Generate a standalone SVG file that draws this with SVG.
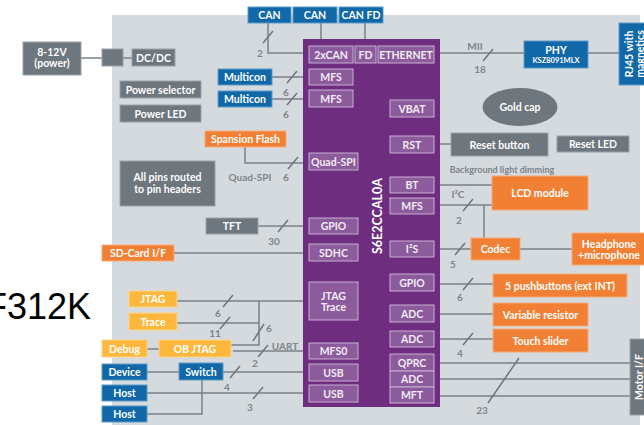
<svg xmlns="http://www.w3.org/2000/svg" width="644" height="425" viewBox="0 0 644 425">
<style>
text{font-family:Lato,"Liberation Sans",sans-serif;font-weight:700;text-anchor:middle;dominant-baseline:central}
.g{fill:#6e767e;stroke:#9ba1a7;stroke-width:1}
.b{fill:#1068a8;stroke:#5d9bc8;stroke-width:1}
.o{fill:#f28034;stroke:#f6aa78;stroke-width:1}
.y{fill:#fcb73c;stroke:#fdd48a;stroke-width:1}
.s{fill:#8b5b9b;stroke:#c9afd3;stroke-width:1}
.t{fill:#fff;font-size:10.5px}
.ts{fill:#f3ecf5;font-size:10.5px}
.n{fill:#7e858b;font-size:10px}
.w{fill:none;stroke:#7b8188;stroke-width:1.5}
.sl{fill:none;stroke:#6e767e;stroke-width:1.5}
</style>
<rect x="112" y="15" width="528" height="410" fill="#d5dade"/>
<text x="-15" y="306" style="font-family:'Liberation Sans',Arial,sans-serif;font-weight:400;font-size:36px;text-anchor:start;fill:#000">F312K</text>

<g id="connectors">
<path class="w" d="M81,58H102M123,58H132"/>
<path class="w" d="M268,23V53H303M321,23V39M365,23V39"/>
<path class="w" d="M272,77H303M272,99H303"/>
<path class="w" d="M440,53H524M588,53H619"/>
<path class="w" d="M245,147V163H303M258,226H303M174,253H303"/>
<path class="w" d="M440,144H451M440,185H492M440,205H492M484,205V238M440,249H471M520,249H572"/>
<path class="w" d="M440,284H493M440,314H493M440,339H493M440,363H630M440,379H630M440,396H630"/>
<path class="w" d="M177,301H303M177,323H259M259,301V345H231M233,351H303M147,349H159"/>
<path class="w" d="M147,372H179M223,372H303M147,393H303M202,380V414H147"/>
<g class="sl">
<path d="M263,43L273,31"/>
<path d="M287,83L297,71M287,105L297,93"/>
<path d="M483,61L493,49"/>
<path d="M288,169L298,157"/>
<path d="M278,232L288,220"/>
<path d="M463,211L473,199"/>
<path d="M455,255L465,243"/>
<path d="M463,290L473,278M463,345L473,333"/>
<path d="M519,358L488,403"/>
<path d="M223,307L233,295M220,329L230,317"/>
<path d="M253,341L264,324"/>
<path d="M258,357L268,345"/>
<path d="M230,378L240,366"/>
<path d="M253,399L263,387"/>
</g>
<text class="n" x="260" y="53">2</text>
<text class="n" x="286" y="92">6</text>
<text class="n" x="286" y="114">6</text>
<text class="n" x="475" y="46">MII</text>
<text class="n" x="480" y="69">18</text>
<text class="n" x="250" y="177">Quad-SPI</text>
<text class="n" x="286" y="177">6</text>
<text class="n" x="274" y="241">30</text>
<text class="n" x="502" y="169" style="font-size:9px">Background light dimming</text>
<text class="n" x="458" y="194">I²C</text>
<text class="n" x="459" y="220">2</text>
<text class="n" x="453" y="264">5</text>
<text class="n" x="460" y="297">6</text>
<text class="n" x="460" y="353">4</text>
<text class="n" x="482" y="410">23</text>
<text class="n" x="218" y="313">6</text>
<text class="n" x="215" y="333">11</text>
<text class="n" x="269" y="328">6</text>
<text class="n" x="285" y="346">UART</text>
<text class="n" x="255" y="363">2</text>
<text class="n" x="227" y="387">4</text>
<text class="n" x="250" y="407">3</text>
</g>

<g id="power"><rect class="g" x="23" y="42" width="58" height="33"/><text class="t" x="52" y="52">8-12V</text><text class="t" x="52" y="63">(power)</text></g>
<g id="plug"><rect class="g" x="102" y="49" width="21" height="17"/></g>
<g id="dcdc"><rect class="g" x="132" y="49" width="43" height="17"/><text class="t" x="153.5" y="57.5">DC/DC</text></g>
<g id="powersel"><rect class="g" x="120" y="81" width="81" height="17"/><text class="t" x="160.5" y="89.5">Power selector</text></g>
<g id="powerled"><rect class="g" x="120" y="105" width="81" height="17"/><text class="t" x="160.5" y="113.5">Power LED</text></g>
<g id="allpins"><rect class="g" x="120" y="161" width="95" height="45"/><text class="t" x="167.5" y="177">All pins routed</text><text class="t" x="167.5" y="189">to pin headers</text></g>

<g id="can1"><rect class="b" x="248" y="7" width="43" height="16"/><text class="t" x="269.5" y="15">CAN</text></g>
<g id="can2"><rect class="b" x="293" y="7" width="44" height="16"/><text class="t" x="315" y="15">CAN</text></g>
<g id="canfd"><rect class="b" x="339" y="7" width="44" height="16"/><text class="t" x="361" y="15">CAN FD</text></g>
<g id="multicon1"><rect class="b" x="218" y="69" width="54" height="16"/><text class="t" x="245" y="77">Multicon</text></g>
<g id="multicon2"><rect class="b" x="218" y="91" width="54" height="16"/><text class="t" x="245" y="99">Multicon</text></g>
<g id="flash"><rect class="o" x="205" y="131" width="81" height="16"/><text class="t" x="245.5" y="139">Spansion Flash</text></g>
<g id="tft"><rect class="g" x="206" y="218" width="52" height="16"/><text class="t" x="232" y="226">TFT</text></g>
<g id="sdcard"><rect class="o" x="102" y="245" width="72" height="16"/><text class="t" x="138" y="253">SD-Card I/F</text></g>
<g id="jtag"><rect class="y" x="129" y="291" width="48" height="16"/><text class="t" x="153" y="299">JTAG</text></g>
<g id="trace"><rect class="y" x="129" y="313" width="48" height="17"/><text class="t" x="153" y="321.5">Trace</text></g>
<g id="debug"><rect class="y" x="102" y="340" width="45" height="17"/><text class="t" x="124.5" y="348.5">Debug</text></g>
<g id="objtag"><rect class="y" x="159" y="340" width="72" height="17"/><text class="t" x="195" y="348.5">OB JTAG</text></g>
<g id="device"><rect class="b" x="102" y="364" width="45" height="16"/><text class="t" x="124.5" y="372">Device</text></g>
<g id="switch"><rect class="b" x="179" y="363" width="44" height="17"/><text class="t" x="201" y="371.5">Switch</text></g>
<g id="host1"><rect class="b" x="102" y="385" width="45" height="16"/><text class="t" x="124.5" y="393">Host</text></g>
<g id="host2"><rect class="b" x="102" y="406" width="45" height="16"/><text class="t" x="124.5" y="414">Host</text></g>

<g id="phy"><rect class="b" x="524" y="41" width="64" height="27"/><text class="t" x="556" y="50">PHY</text><text class="t" x="556" y="60" style="font-size:7.5px">KSZ8091MLX</text></g>
<g id="rj45"><rect class="b" x="619" y="23" width="30" height="62"/><text class="t" transform="translate(629,54) rotate(-90)">RJ45 with</text><text class="t" transform="translate(640,54) rotate(-90)">magnetics</text></g>
<g id="goldcap"><ellipse cx="520" cy="107" rx="37.5" ry="19" fill="#6e767e"/><text class="t" x="520" y="107">Gold cap</text></g>
<g id="resetbtn"><rect class="g" x="451" y="133" width="97" height="23"/><text class="t" x="499.5" y="144.5">Reset button</text></g>
<g id="resetled"><rect class="g" x="557" y="136" width="72" height="16"/><text class="t" x="593" y="144">Reset LED</text></g>
<g id="lcd"><rect class="o" x="492" y="176" width="96" height="34"/><text class="t" x="540" y="193">LCD module</text></g>
<g id="codec"><rect class="o" x="471" y="238" width="49" height="22"/><text class="t" x="495.5" y="249">Codec</text></g>
<g id="headphone"><rect class="o" x="572" y="233" width="74" height="32"/><text class="t" x="609" y="244">Headphone</text><text class="t" x="609" y="255">+microphone</text></g>
<g id="pushbuttons"><rect class="o" x="493" y="274" width="134" height="23"/><text class="t" x="560" y="285.5">5 pushbuttons (ext INT)</text></g>
<g id="varres"><rect class="o" x="493" y="303" width="95" height="23"/><text class="t" x="540.5" y="314.5">Variable resistor</text></g>
<g id="touch"><rect class="o" x="493" y="329" width="95" height="23"/><text class="t" x="540.5" y="340.5">Touch slider</text></g>
<g id="motor"><rect class="g" x="630" y="339" width="20" height="76"/><text class="t" transform="translate(638.5,377) rotate(-90)">Motor I/F</text></g>

<g id="chip">
<rect x="303" y="39" width="137" height="368" fill="#6e2d7f"/>
<text transform="translate(377,216) rotate(-90)" style="fill:#fff;font-size:12.5px">S6E2CCAL0A</text>
<rect class="s" x="309" y="46" width="44" height="17"/><text class="ts" x="331" y="54.5">2xCAN</text>
<rect class="s" x="355" y="46" width="21" height="17"/><text class="ts" x="365.5" y="54.5">FD</text>
<rect class="s" x="378" y="46" width="56" height="17"/><text class="ts" x="406" y="54.5">ETHERNET</text>
<rect class="s" x="309" y="69" width="44" height="16"/><text class="ts" x="331" y="77">MFS</text>
<rect class="s" x="309" y="90" width="44" height="17"/><text class="ts" x="331" y="98.5">MFS</text>
<rect class="s" x="309" y="153" width="49" height="17"/><text class="ts" x="333.5" y="161.5">Quad-SPI</text>
<rect class="s" x="309" y="218" width="49" height="16"/><text class="ts" x="333.5" y="226">GPIO</text>
<rect class="s" x="309" y="244" width="49" height="17"/><text class="ts" x="333.5" y="252.5">SDHC</text>
<rect class="s" x="309" y="282" width="49" height="38"/><text class="ts" x="333.5" y="296">JTAG</text><text class="ts" x="333.5" y="307">Trace</text>
<rect class="s" x="309" y="343" width="49" height="16"/><text class="ts" x="333.5" y="351">MFS0</text>
<rect class="s" x="309" y="364" width="49" height="17"/><text class="ts" x="333.5" y="372.5">USB</text>
<rect class="s" x="309" y="385" width="49" height="17"/><text class="ts" x="333.5" y="393.5">USB</text>
<rect class="s" x="390" y="100" width="44" height="17"/><text class="ts" x="412" y="108.5">VBAT</text>
<rect class="s" x="390" y="136" width="44" height="17"/><text class="ts" x="412" y="144.5">RST</text>
<rect class="s" x="390" y="177" width="44" height="16"/><text class="ts" x="412" y="185">BT</text>
<rect class="s" x="390" y="198" width="44" height="16"/><text class="ts" x="412" y="206">MFS</text>
<rect class="s" x="390" y="241" width="44" height="16"/><text class="ts" x="412" y="249">I²S</text>
<rect class="s" x="390" y="274" width="44" height="17"/><text class="ts" x="412" y="282.5">GPIO</text>
<rect class="s" x="390" y="305" width="44" height="17"/><text class="ts" x="412" y="313.5">ADC</text>
<rect class="s" x="390" y="331" width="44" height="16"/><text class="ts" x="412" y="339">ADC</text>
<rect class="s" x="390" y="354" width="44" height="17"/><text class="ts" x="412" y="362.5">QPRC</text>
<rect class="s" x="390" y="371" width="44" height="16"/><text class="ts" x="412" y="379">ADC</text>
<rect class="s" x="390" y="387" width="44" height="16"/><text class="ts" x="412" y="395">MFT</text>
</g>
</svg>
